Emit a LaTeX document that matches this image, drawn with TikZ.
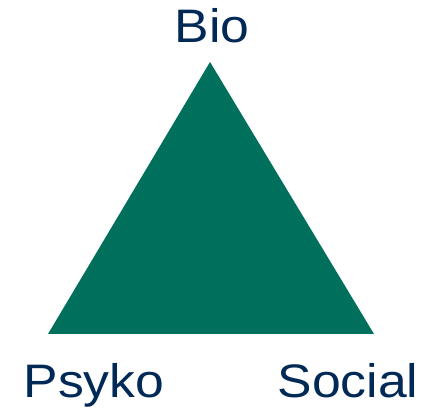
\documentclass[tikz,border=0pt]{standalone}
\usepackage{fontspec}
\setmainfont{Liberation Sans}
\definecolor{trigreen}{RGB}{0,112,92}
\definecolor{labelnavy}{RGB}{0,41,86}

\begin{document}
\begin{tikzpicture}[x=1pt, y=1pt,
    corner/.style={text=labelnavy, anchor=base, inner sep=0pt, xscale=1.1, font=\fontsize{47}{47}\selectfont}]
    \useasboundingbox (0,0) rectangle (427,411);
    \coordinate (top) at (210,349);
    \coordinate (left) at (48,77);
    \coordinate (right) at (374,77);
    \fill [trigreen] (top) -- (left) -- (right) -- cycle;
    \node [corner] (bio) at (212,368) {Bio};
    \node [corner] (psyko) at (94,13) {Psyko};
    \node [corner] (social) at (348,13) {Social};
    \end{tikzpicture}
\end{document}
